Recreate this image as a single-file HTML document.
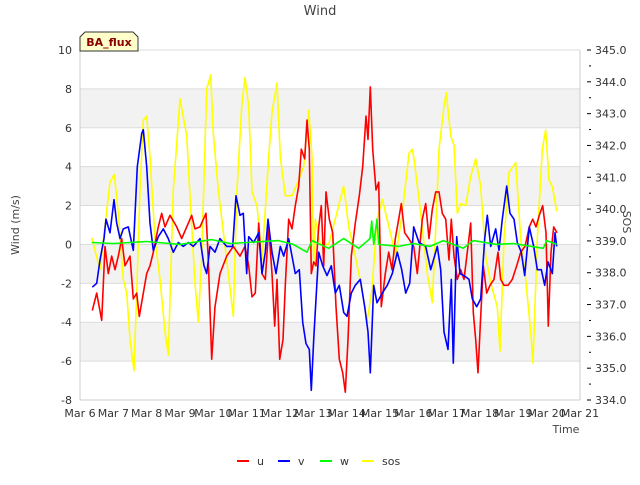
<!DOCTYPE html>
<html><head><meta charset="utf-8"><style>
body{margin:0;background:#fff;}
svg text{font-family:"DejaVu Sans","Liberation Sans",sans-serif;}
</style></head><body>
<svg id="chart" width="640" height="480" xmlns="http://www.w3.org/2000/svg">
<g id="bg"></g><g id="grid"></g><g id="series"></g><g id="axes"></g>
<text x="320" y="15" text-anchor="middle" font-size="13" fill="#444">Wind</text>
<text transform="translate(19,225) rotate(-90)" text-anchor="middle" font-size="11" fill="#444">Wind (m/s)</text>
<text transform="translate(623,222) rotate(90)" text-anchor="middle" font-size="11" fill="#444">SOS</text>
<text x="566" y="433" text-anchor="middle" font-size="11" fill="#444">Time</text>
<g>
<path d="M80,51 L80,37 L85,32 L133,32 L138,37 L138,51 Z" fill="#ffffcc" stroke="#333" stroke-width="1"/>
<text x="109" y="46" text-anchor="middle" font-size="11" font-weight="bold" fill="#8b0000">BA_flux</text>
</g>
<g id="legend"></g>
</svg>
<script>
const uT=[6.37,6.5,6.65,6.75,6.85,6.95,7.05,7.15,7.25,7.35,7.5,7.6,7.7,7.78,7.9,8.0,8.1,8.2,8.35,8.45,8.55,8.7,8.9,9.05,9.2,9.35,9.45,9.6,9.78,9.85,9.95,10.05,10.2,10.4,10.6,10.8,10.95,11.06,11.16,11.26,11.36,11.46,11.56,11.66,11.76,11.84,11.91,11.99,12.09,12.16,12.26,12.36,12.46,12.56,12.64,12.74,12.81,12.88,12.94,13.01,13.08,13.16,13.24,13.31,13.38,13.48,13.58,13.68,13.78,13.88,13.96,14.04,14.14,14.26,14.38,14.48,14.58,14.64,14.71,14.78,14.88,14.96,15.04,15.16,15.26,15.36,15.46,15.56,15.64,15.74,15.86,16.01,16.12,16.27,16.37,16.47,16.57,16.67,16.77,16.87,16.97,17.07,17.14,17.22,17.32,17.42,17.52,17.62,17.72,17.8,17.87,17.94,18.02,18.1,18.2,18.3,18.42,18.54,18.62,18.72,18.84,18.97,19.1,19.22,19.35,19.48,19.58,19.68,19.78,19.88,19.98,20.05,20.13,20.21,20.31];
const uV=[-3.4,-2.5,-3.9,-0.1,-1.5,-0.6,-1.3,-0.6,0.3,-1.1,-0.6,-2.8,-2.5,-3.7,-2.5,-1.5,-1.1,-0.4,0.9,1.6,0.9,1.5,0.9,0.3,0.9,1.5,0.8,0.9,1.6,-0.8,-5.9,-3.2,-1.5,-0.6,-0.1,-0.6,-0.1,-1.1,-2.7,-2.5,1.1,-1.5,-1.8,0.9,-1.5,-4.2,-1.8,-5.9,-4.9,-2.1,1.3,0.8,2.0,3.0,4.9,4.4,6.4,4.9,-1.5,-0.9,-1.1,0.9,2.0,-1.1,2.7,1.3,0.6,-3.2,-5.9,-6.6,-7.6,-4.9,-0.6,1.1,2.5,4.0,6.6,5.4,8.1,4.9,2.8,3.2,-3.2,-1.5,-0.4,-1.3,0.3,1.3,2.1,0.6,0.3,-0.1,-1.5,1.3,2.1,0.3,1.8,2.7,2.7,1.6,1.3,-0.8,1.3,-0.6,-1.8,-1.3,-1.8,-0.4,1.1,-3.5,-4.9,-6.6,-3.7,-1.1,-2.5,-2.1,-1.8,-0.4,-1.8,-2.1,-2.1,-1.8,-1.1,-0.4,-0.1,0.9,1.3,0.9,1.5,2.0,0.6,-4.2,-0.4,0.9,0.6];
const vT=[6.37,6.5,6.6,6.72,6.78,6.9,7.02,7.1,7.2,7.3,7.45,7.6,7.72,7.85,7.9,8.0,8.1,8.2,8.35,8.5,8.65,8.8,8.95,9.1,9.25,9.4,9.6,9.72,9.8,9.9,10.05,10.2,10.4,10.58,10.68,10.8,10.9,11.0,11.06,11.21,11.36,11.46,11.56,11.64,11.76,11.88,12.01,12.11,12.26,12.36,12.46,12.58,12.68,12.78,12.88,12.94,13.01,13.08,13.16,13.28,13.41,13.54,13.66,13.78,13.91,14.01,14.14,14.26,14.41,14.54,14.64,14.71,14.81,14.91,15.07,15.22,15.37,15.52,15.65,15.77,15.89,16.01,16.17,16.37,16.52,16.72,16.82,16.92,17.04,17.14,17.2,17.3,17.4,17.52,17.67,17.77,17.9,18.02,18.14,18.22,18.32,18.47,18.57,18.67,18.8,18.9,19.02,19.12,19.24,19.34,19.48,19.61,19.72,19.84,19.94,20.04,20.17,20.25,20.3];
const vV=[-2.2,-2.0,-0.8,0.3,1.3,0.6,2.3,1.1,0.3,0.8,0.9,-0.3,4.0,5.7,5.9,4.0,1.1,-0.3,0.4,0.8,0.3,-0.4,0.1,-0.1,0.1,-0.1,0.3,-1.1,-1.5,-0.1,-0.4,0.3,-0.1,-0.1,2.5,1.5,1.6,-1.5,0.4,0.1,0.6,-1.5,-0.4,1.3,-0.4,-1.5,-0.1,-0.6,0.3,-0.6,-1.5,-1.3,-4.0,-5.1,-5.4,-7.5,-4.9,-2.8,-0.4,-1.1,-1.6,-1.1,-2.5,-2.1,-3.5,-3.7,-2.5,-2.1,-1.8,-3.2,-4.5,-6.6,-2.1,-3.0,-2.5,-2.1,-1.5,-0.4,-1.3,-2.5,-2.0,0.9,0.1,-0.1,-1.3,-0.1,-1.3,-4.5,-5.4,-1.8,-6.1,0.4,-1.5,-1.6,-1.8,-2.8,-3.2,-2.8,0.3,1.5,-0.1,0.8,-0.3,1.3,3.0,1.6,1.3,0.1,-0.4,-1.6,0.9,-0.1,-1.3,-1.3,-2.1,-0.9,-1.5,0.6,-0.1];
const wT=[6.35,7.0,8.0,9.0,9.95,10.5,11.0,11.96,12.4,12.81,12.96,13.46,13.91,14.36,14.7,14.75,14.81,14.91,14.96,15.56,16.0,16.5,16.9,17.5,17.8,18.5,19.0,19.9,20.0,20.3];
const wV=[0.1,0.05,0.15,0.0,0.25,0.05,0.1,0.2,0.0,-0.4,0.2,-0.2,0.3,-0.2,0.3,1.2,0.0,1.3,0.0,-0.1,0.05,-0.1,0.2,-0.2,0.2,0.0,0.05,-0.2,0.2,0.0];
const sT=[6.35,6.6,6.9,7.03,7.15,7.3,7.4,7.5,7.62,7.7,7.8,7.9,8.0,8.1,8.25,8.4,8.55,8.65,8.8,9.0,9.2,9.3,9.45,9.55,9.65,9.8,9.92,10.0,10.15,10.4,10.6,10.7,10.85,10.95,11.06,11.16,11.31,11.46,11.66,11.76,11.91,12.01,12.16,12.36,12.56,12.71,12.86,12.96,13.01,13.06,13.21,13.46,13.76,13.91,14.06,14.26,14.46,14.61,14.76,14.91,15.07,15.27,15.47,15.67,15.87,15.97,16.02,16.22,16.42,16.57,16.67,16.77,16.92,16.99,17.12,17.22,17.32,17.42,17.57,17.72,17.87,18.02,18.17,18.32,18.52,18.6,18.72,18.87,19.07,19.22,19.37,19.52,19.59,19.72,19.87,19.97,20.07,20.17,20.3];
const sV=[339.10,338.10,340.85,341.09,339.87,337.79,337.36,335.90,334.92,337.36,340.60,342.80,342.92,341.64,339.07,337.79,336.14,335.41,340.60,343.47,342.31,340.42,337.67,336.45,338.52,343.78,344.21,342.37,340.60,338.40,336.63,340.42,343.23,344.14,343.23,340.54,340.11,338.40,341.64,343.04,343.96,341.64,340.42,340.42,340.91,341.33,343.11,341.64,338.22,339.68,338.89,338.89,340.11,340.72,339.44,338.52,337.48,336.45,337.48,339.68,340.30,339.44,338.52,339.87,341.76,341.88,341.58,339.87,337.97,337.06,339.38,341.88,343.23,343.66,342.31,342.01,339.87,340.17,340.11,341.03,341.58,340.72,338.52,337.67,336.93,335.53,339.07,341.15,341.46,339.07,337.79,336.14,335.16,339.07,341.88,342.49,340.91,340.72,339.93];
const yTicks=[-8,-6,-4,-2,0,2,4,6,8,10];
const y2Ticks=[334,335,336,337,338,339,340,341,342,343,344,345];
const xTicks=[6,7,8,9,10,11,12,13,14,15,16,17,18,19,20,21];

const L=80,R=580,T=50,B=400,NS="http://www.w3.org/2000/svg";
const xS=d=>L+(d-6)/15*(R-L);
const yS=v=>B-(v+8)/18*(B-T);
const y2S=v=>B-(v-334)/11*(B-T);
function mk(tag,attrs,parent){const e=document.createElementNS(NS,tag);for(const k in attrs)e.setAttribute(k,attrs[k]);parent.appendChild(e);return e;}
const bg=document.getElementById('bg'),grid=document.getElementById('grid'),ser=document.getElementById('series'),ax=document.getElementById('axes');
for(let i=0;i<yTicks.length-1;i++){
  if(i%2===1){const r=mk('rect',{x:L,y:yS(yTicks[i]),width:R-L,height:yS(yTicks[i-1]!==undefined?yTicks[i]:0)-yS(yTicks[i+1]),fill:'#f2f2f2'},bg);
  r.setAttribute('y',yS(yTicks[i+1]));r.setAttribute('height',yS(yTicks[i])-yS(yTicks[i+1]));
  
  }
}
yTicks.forEach(v=>{
  const l=mk('line',{x1:L,x2:R,y1:yS(v),y2:yS(v),stroke:'#dcdcdc','stroke-width':1},grid);
  
  
  const t=mk('text',{x:L-8,y:yS(v)+4,'text-anchor':'end','font-size':11,fill:'#333'},ax);t.textContent=v;
  
  
});
mk('line',{x1:L,x2:L,y1:T,y2:B,stroke:'#ccc'},ax);
mk('line',{x1:R,x2:R,y1:T,y2:B,stroke:'#ccc'},ax);
mk('line',{x1:L,x2:R,y1:B,y2:B,stroke:'#ccc'},ax);
mk('line',{x1:L,x2:R,y1:T,y2:T,stroke:'#ddd'},ax);
y2Ticks.forEach(v=>{
  mk('line',{x1:R+7,x2:R+11,y1:y2S(v),y2:y2S(v),stroke:'#000'},ax);
  if(v<345)mk('line',{x1:R+9,x2:R+11,y1:y2S(v+0.5),y2:y2S(v+0.5),stroke:'#000'},ax);
  const t=mk('text',{x:R+15,y:y2S(v)+4,'font-size':11,fill:'#333'},ax);t.textContent=v.toFixed(1);
  
  
});
xTicks.forEach(d=>{
  const t=mk('text',{x:xS(d),y:B+17,'text-anchor':'middle','font-size':11,fill:'#333'},ax);t.textContent='Mar '+d;
  
  
});
function line(ts,vs,ys,color,name){
  const p=mk('polyline',{points:ts.map((t,i)=>xS(t).toFixed(1)+','+ys(vs[i]).toFixed(1)).join(' '),fill:'none',stroke:color,'stroke-width':1.6,'stroke-linejoin':'round'},ser);
  
  
}
line(sT,sV,y2S,'#ffff00','series-sos');
line(uT,uV,yS,'#ff0000','series-u');
line(vT,vV,yS,'#0000ff','series-v');
line(wT,wV,yS,'#00ff00','series-w');
const lg=document.getElementById('legend');
[['u','#ff0000',237],['v','#0000ff',278],['w','#00ff00',320],['sos','#ffff00',362]].forEach(([n,c,x])=>{
  const g=mk('g',{},lg);
  
  
  mk('line',{x1:x,x2:x+12,y1:461,y2:461,stroke:c,'stroke-width':2},g);
  const t=mk('text',{x:x+20,y:465,'font-size':11,fill:'#333'},g);t.textContent=n;
});
</script>
</body></html>
